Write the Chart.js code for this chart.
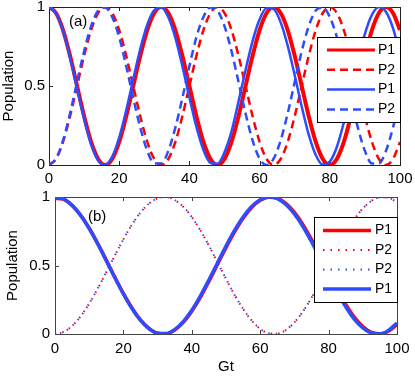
<!DOCTYPE html>
<html>
<head>
<meta charset="utf-8">
<script src="https://cdn.jsdelivr.net/npm/chart.js@4.4.1/dist/chart.umd.min.js"></script>
<style>
body{margin:0;background:#fff;}
#wrap{position:relative;width:415px;height:376px;}
#wrap canvas{position:absolute;left:0;}
</style>
</head>
<body>
<div id="wrap">
<canvas id="chartA" width="415" height="190" style="top:0px"></canvas>
<canvas id="chartB" width="415" height="186" style="top:190px"></canvas>
</div>
<script>
// ---- panel (a) ----
var tA = [0,2,4,6,8,10,12,14,16,18,20,22,24,26,28,30,32,34,36,38,40,42,44,46,48,50,
	52,54,56,58,60,62,64,66,68,70,72,74,76,78,80,82,84,86,88,90,92,94,96,98,100];

var a_red_p1 = [1,.962,.854,.691,.5,.309,.146,.038,0,.038,.146,.309,.5,.691,.854,.962,
	1,.962,.854,.691,.5,.309,.146,.038,0,.038,.146,.309,.5,.691,.854,.962,
	1,.962,.854,.691,.5,.309,.146,.038,0,.038,.146,.309,.5,.691,.854,.962,
	1,.962,.854];
var a_red_p2 = [0,.038,.146,.309,.5,.691,.854,.962,1,.962,.854,.691,.5,.309,.146,.038,
	0,.038,.146,.309,.5,.691,.854,.962,1,.962,.854,.691,.5,.309,.146,.038,
	0,.038,.146,.309,.5,.691,.854,.962,1,.962,.854,.691,.5,.309,.146,.038,
	0,.038,.146];
var a_blue_p1 = [1,.9605,.8484,.6812,.4854,.2919,.1313,.0289,.0009,.0516,.1732,.3463,.5438,.7343,.8878,.9801,
	.9966,.9347,.8043,.6256,.4273,.2404,.0945,.0126,.0077,.0805,.2126,.4028,.6015,.7842,.9219,.9931,
	.9864,.9030,.7555,.5684,.3701,.1920,.0630,.0027,.0212,.1142,.2689,.4607,.6579,.8301,.9503,.9994,
	.9696,.8657,.7040];
var a_blue_p2 = [0,.0405,.1555,.3264,.5253,.7203,.8792,.9771,.9974,.9371,.8093,.6259,.4243,.2368,.0895,.0102,
	.0102,.0895,.2368,.4243,.6259,.8093,.9371,.9974,.9771,.8792,.7203,.5253,.3264,.1555,.0405,
	0,.0405,.1555,.3264,.5253,.7203,.8792,.9771,.9974,.9371,.8093,.6259,.4243,.2368,.0895,.0102,
	.0102,.0895,.2368,.4243];

// ---- panel (b) ----
var tB = [0,2.5,5,7.5,10,12.5,15,17.5,20,22.5,25,27.5,30,32.5,35,37.5,40,42.5,45,47.5,50,
	52.5,55,57.5,60,62.5,65,67.5,70,72.5,75,77.5,80,82.5,85,87.5,90,92.5,95,97.5,100];

var b_red_p1 = [.99,.9846,.9394,.8670,.7722,.6605,.5391,.4151,.2965,.1904,.1030,.0405,.0061,.0022,.0292,.0846,
	.1662,.2671,.3835,.5070,.6299,.7447,.8445,.9229,.9755,.9987,.9912,.9535,.8878,.7988,.6905,.5709,
	.4469,.3263,.2163,.1237,.0545,.0126,.0007,.0197,.0689];
var b_red_p2 = [0,.0150,.0590,.1295,.2222,.3316,.4510,.5734,.6913,.7979,.8865,.9520,.9904,.9994,.9785,.9289,
	.8536,.7571,.6451,.5245,.4025,.2862,.1828,.0984,.0381,.0054,.0024,.0292,.0843,.1642,.2643,.3785,
	.5,.6215,.7357,.8358,.9157,.9708,.9976,.9946,.9619];
var b_blue_p2 = [0,.0150,.0590,.1295,.2222,.3316,.4510,.5734,.6913,.7979,.8865,.9520,.9904,.9994,.9785,.9289,
	.8536,.7571,.6451,.5245,.4025,.2862,.1828,.0984,.0381,.0054,.0024,.0292,.0843,.1642,.2643,.3785,
	.5,.6215,.7357,.8358,.9157,.9708,.9976,.9946,.9619];
var b_blue_p1 = [1,.9845,.9388,.8658,.7702,.6577,.5354,.4109,.2919,.1859,.0994,.0379,.0050,.0029,.0318,.0897,
	.1732,.2769,.3946,.5188,.6418,.7560,.8543,.9306,.9801,.9998,.9883,.9465,.8770,.7849,.6733,.5519,
	.4273,.3071,.1990,.1093,.0445,.0076,.0014,.0266,.0805];

var xTicks = [0,20,40,60,80,100];
var yTicks = [0,0.5,1];

var RED = 'rgb(255,0,0)';
var BLUE = 'rgb(45,75,255)';
var FONT = "'Liberation Sans', Arial, sans-serif";

Chart.defaults.font.family = FONT;
Chart.defaults.font.size = 15;
Chart.defaults.color = '#000';

// frame, inner tick marks, panel label and boxed legend
var decor = {
	id: 'decor',
	beforeDatasetsDraw: function(chart, args, o){
		var a = chart.chartArea, ctx = chart.ctx;
		var xs = chart.scales.x, ys = chart.scales.y;
		ctx.save();
		ctx.strokeStyle = o.frameColor;
		ctx.lineWidth = 1;
		ctx.strokeRect(Math.round(a.left)+0.5, Math.round(a.top)+0.5, Math.round(a.right-a.left), Math.round(a.bottom-a.top));
		ctx.beginPath();
		xs.ticks.forEach(function(t){
			var x = Math.round(xs.getPixelForValue(t.value))+0.5;
			ctx.moveTo(x, a.bottom); ctx.lineTo(x, a.bottom-4);
			ctx.moveTo(x, a.top); ctx.lineTo(x, a.top+4);
		});
		ys.ticks.forEach(function(t){
			var y = Math.round(ys.getPixelForValue(t.value))+0.5;
			ctx.moveTo(a.left, y); ctx.lineTo(a.left+4, y);
			ctx.moveTo(a.right, y); ctx.lineTo(a.right-4, y);
		});
		ctx.stroke();
		ctx.restore();
	},
	afterDatasetsDraw: function(chart, args, o){
		var a = chart.chartArea, ctx = chart.ctx;
		ctx.save();
		ctx.font = '15px ' + FONT;
		ctx.fillStyle = '#000';
		ctx.textBaseline = 'middle';
		ctx.fillText(o.label, a.left + o.labelX, a.top + o.labelY);

		var L = o.legend;
		var bx = a.right - L.w, by = a.top + L.dy;
		ctx.fillStyle = '#fff';
		ctx.fillRect(bx, by, L.w, L.h);
		ctx.strokeStyle = '#000';
		ctx.lineWidth = 1;
		ctx.strokeRect(Math.round(bx)+0.5, Math.round(by)+0.5, L.w, L.h);
		ctx.font = '14px ' + FONT;
		chart.data.datasets.forEach(function(ds, i){
			var y = by + L.rowTop + i*L.rowGap;
			ctx.save();
			ctx.strokeStyle = ds.borderColor;
			ctx.lineWidth = ds.legendWidth || ds.borderWidth;
			ctx.setLineDash(ds.borderDash || []);
			ctx.lineDashOffset = 0;
			ctx.beginPath();
			ctx.moveTo(bx + L.x0, y);
			ctx.lineTo(bx + L.x1, y);
			ctx.stroke();
			ctx.restore();
			ctx.fillStyle = '#000';
			ctx.fillText(ds.label, bx + L.tx, y);
		});
		ctx.restore();
	}
};

function makeChart(id, labels, datasets, p){
	var ctx = document.getElementById(id).getContext('2d');
	return new Chart(ctx, {
		type: 'line',
		data: { labels: labels, datasets: datasets },
		plugins: [decor],
		options: {
			responsive: false,
			devicePixelRatio: 1,
			animation: false,
			layout: { padding: { left: 0, top: 7, right: p.padRight, bottom: 0 } },
			elements: { point: { radius: 0 }, line: { cubicInterpolationMode: 'monotone' } },
			plugins: {
				legend: { display: false },
				tooltip: { enabled: false },
				decor: p.decor
			},
			scales: {
				x: {
					type: 'linear', min: 0, max: 100,
					grid: { display: false, drawTicks: false },
					border: { display: false },
					afterBuildTicks: function(s){ s.ticks = xTicks.map(function(v){ return {value: v}; }); },
					ticks: { padding: p.xPad, maxRotation: 0, callback: function(v){ return String(v); } },
					title: { display: p.xTitle != null, text: p.xTitle || '', padding: { top: 0, bottom: 0 } },
					afterFit: function(s){ s.height = p.xHeight; s.paddingLeft = 0; s.paddingRight = 0; }
				},
				y: {
					min: 0, max: 1,
					grid: { display: false, drawTicks: false },
					border: { display: false },
					afterBuildTicks: function(s){ s.ticks = yTicks.map(function(v){ return {value: v}; }); },
					ticks: { padding: p.yPad, callback: function(v){ return String(v); } },
					title: { display: true, text: 'Population', padding: { top: p.yTitlePad, bottom: 0 } },
					afterFit: function(s){ s.width = p.yWidth; s.paddingTop = 0; s.paddingBottom = 0; }
				}
			}
		}
	});
}

makeChart('chartA', tA, [
	{ label: 'P1', data: a_red_p1, borderColor: RED, borderWidth: 4, legendWidth: 3, order: 3 },
	{ label: 'P2', data: a_red_p2, borderColor: RED, borderWidth: 2.5, borderDash: [8,5], order: 2 },
	{ label: 'P1', data: a_blue_p1, borderColor: BLUE, borderWidth: 2.5, order: 0 },
	{ label: 'P2', data: a_blue_p2, borderColor: BLUE, borderWidth: 2.5, borderDash: [8,5], order: 1 }
], {
	padRight: 15, xHeight: 25, yWidth: 49, xPad: 5, yPad: 4, yTitlePad: 0, xTitle: null,
	decor: {
		frameColor: '#222', label: '(a)', labelX: 20, labelY: 15,
		legend: { w: 83, h: 85, dy: 30, rowTop: 13, rowGap: 19.8, x0: 10, x1: 58, tx: 61 }
	}
});

makeChart('chartB', tB, [
	{ label: 'P1', data: b_red_p1, borderColor: RED, borderWidth: 3.5, order: 3 },
	{ label: 'P2', data: b_red_p2, borderColor: RED, borderWidth: 2, borderDash: [1.5,6], order: 2 },
	{ label: 'P2', data: b_blue_p2, borderColor: BLUE, borderWidth: 2, borderDash: [1.5,6], borderDashOffset: 2.5, order: 1 },
	{ label: 'P1', data: b_blue_p1, borderColor: BLUE, borderWidth: 3.5, order: 0 }
], {
	padRight: 18, xHeight: 42, yWidth: 55, xPad: 6, yPad: 5, yTitlePad: 3.5, xTitle: 'Gt',
	decor: {
		frameColor: '#444', label: '(b)', labelX: 33, labelY: 20,
		legend: { w: 83, h: 85, dy: 20, rowTop: 13.5, rowGap: 19.5, x0: 9, x1: 57, tx: 61 }
	}
});
</script>
</body>
</html>
